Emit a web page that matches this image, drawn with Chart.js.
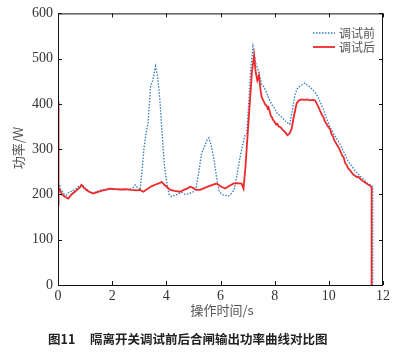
<!DOCTYPE html>
<html>
<head>
<meta charset="utf-8">
<script src="https://cdn.jsdelivr.net/npm/chart.js@4/dist/chart.umd.min.js"></script>
<style>
  body { margin: 0; background: #fff; }
  canvas { display: block; }
</style>
</head>
<body>
<canvas id="chart" width="398" height="352"></canvas>
<script>
// 调试前 (before adjustment)
const timeBefore = [0, 0.01, 0.05, 0.1, 0.2, 0.3, 0.4, 0.5, 0.6, 0.7, 0.8, 0.9, 1.0, 1.1, 1.2, 1.3, 1.45, 1.6, 1.8, 2.0, 2.2, 2.4, 2.6, 2.75, 2.85, 2.95, 3.03, 3.1, 3.17, 3.25, 3.33, 3.42, 3.5, 3.6, 3.68, 3.76, 3.85, 3.92, 4.0, 4.1, 4.2, 4.3, 4.4, 4.55, 4.7, 4.85, 5.0, 5.1, 5.2, 5.3, 5.4, 5.5, 5.57, 5.65, 5.75, 5.85, 5.95, 6.05, 6.15, 6.3, 6.4, 6.5, 6.6, 6.7, 6.8, 6.9, 6.97, 7.05, 7.12, 7.2, 7.25, 7.3, 7.38, 7.45, 7.52, 7.6, 7.7, 7.8, 7.9, 8.0, 8.1, 8.2, 8.3, 8.4, 8.5, 8.56, 8.65, 8.75, 8.85, 8.95, 9.05, 9.12, 9.2, 9.3, 9.4, 9.5, 9.6, 9.7, 9.8, 9.9, 10.0, 10.1, 10.2, 10.3, 10.4, 10.5, 10.6, 10.7, 10.8, 10.9, 11.0, 11.1, 11.2, 11.3, 11.4, 11.5, 11.58, 11.62, 11.62];
const powerBefore = [600, 200, 222, 212, 202, 198, 205, 207, 210, 214, 220, 222, 214, 210, 205, 203, 207, 210, 212, 211, 212, 210, 211, 214, 221, 214, 210, 250, 300, 335, 360, 440, 452, 483, 460, 410, 330, 270, 232, 200, 195, 198, 200, 205, 200, 202, 206, 215, 250, 290, 305, 320, 325, 310, 280, 240, 208, 200, 198, 197, 202, 210, 240, 275, 305, 330, 335, 410, 480, 527, 510, 490, 478, 460, 443, 438, 425, 410, 398, 390, 378, 375, 368, 362, 357, 355, 385, 420, 436, 440, 444, 446, 442, 437, 432, 425, 415, 402, 388, 370, 355, 342, 332, 322, 313, 300, 288, 275, 266, 258, 250, 244, 238, 232, 226, 222, 219, 218, 0];

// 调试后 (after adjustment)
const timeAfter = [0, 0.01, 0.03, 0.07, 0.15, 0.25, 0.38, 0.5, 0.6, 0.7, 0.8, 0.87, 0.95, 1.05, 1.15, 1.3, 1.45, 1.6, 1.75, 1.92, 2.1, 2.3, 2.5, 2.7, 2.9, 3.03, 3.15, 3.3, 3.45, 3.6, 3.75, 3.83, 3.92, 4.01, 4.15, 4.3, 4.5, 4.65, 4.8, 4.87, 5.0, 5.1, 5.24, 5.4, 5.55, 5.7, 5.86, 6.0, 6.17, 6.3, 6.47, 6.6, 6.78, 6.85, 6.92, 7.0, 7.08, 7.16, 7.24, 7.3, 7.36, 7.42, 7.48, 7.52, 7.56, 7.6, 7.65, 7.7, 7.74, 7.77, 7.81, 7.85, 7.9, 7.95, 8.0, 8.05, 8.1, 8.15, 8.2, 8.26, 8.3, 8.35, 8.41, 8.47, 8.55, 8.63, 8.7, 8.81, 8.9, 9.0, 9.1, 9.2, 9.3, 9.4, 9.49, 9.58, 9.67, 9.75, 9.8, 9.85, 9.9, 9.98, 10.05, 10.1, 10.15, 10.2, 10.3, 10.35, 10.41, 10.5, 10.55, 10.6, 10.65, 10.72, 10.78, 10.85, 10.9, 10.95, 11.05, 11.1, 11.15, 11.25, 11.3, 11.35, 11.45, 11.52, 11.58, 11.58];
const powerAfter = [405, 175, 215, 210, 200, 195, 191, 200, 205, 210, 215, 221, 215, 210, 206, 202, 205, 208, 210, 213, 212, 211, 212, 210, 209, 210, 206, 212, 218, 222, 225, 228, 222, 217, 210, 208, 206, 210, 214, 217, 214, 210, 210, 214, 218, 221, 224, 218, 213, 218, 224, 225, 224, 213, 260, 330, 400, 470, 507, 470, 452, 463, 430, 415, 410, 405, 399, 396, 390, 393, 385, 375, 370, 364, 360, 355, 356, 350, 349, 346, 342, 340, 336, 331, 335, 346, 370, 401, 408, 410, 409, 410, 408, 409, 408, 398, 386, 375, 371, 362, 357, 349, 344, 333, 329, 320, 310, 305, 298, 285, 282, 270, 266, 257, 254, 248, 244, 242, 238, 239, 235, 230, 228, 226, 222, 220, 215, 0];

const xTicks = [0, 2, 4, 6, 8, 10, 12];
const yTicks = [0, 100, 200, 300, 400, 500, 600];
const seriesNames = ["调试前", "调试后"];

const blue = "#2f7cc0";
const red = "#ee2a2a";
const cjk = "'Noto Sans CJK SC', sans-serif";
const serif = "'Times New Roman', Times, Tinos, 'Liberation Serif', 'DejaVu Serif', 'Noto Serif', serif";

const toPoints = (xs, ys) => xs.map((x, i) => ({ x: x, y: ys[i] }));

// frame, inward ticks, axis titles, legend and caption
const decor = {
  id: "decor",
  afterDraw(chart) {
    const ctx = chart.ctx;
    const a = chart.chartArea;
    const xs = chart.scales.x;
    const ys = chart.scales.y;
    ctx.save();
    ctx.strokeStyle = "#111";
    ctx.lineWidth = 1;
    ctx.strokeRect(a.left + 0.5, a.top + 0.5, a.right - a.left - 1, a.bottom - a.top);
    ctx.beginPath();
    xTicks.forEach((v) => {
      const px = Math.round(xs.getPixelForValue(v)) + 0.5;
      ctx.moveTo(px, a.bottom); ctx.lineTo(px, a.bottom - 4);
      ctx.moveTo(px, a.top); ctx.lineTo(px, a.top + 4);
    });
    yTicks.forEach((v) => {
      const py = Math.round(ys.getPixelForValue(v)) + 0.5;
      ctx.moveTo(a.left, py); ctx.lineTo(a.left + 4, py);
      ctx.moveTo(a.right, py); ctx.lineTo(a.right - 4, py);
    });
    ctx.stroke();

    // axis titles
    ctx.fillStyle = "#555";
    ctx.font = "13px " + cjk;
    ctx.textAlign = "center";
    ctx.textBaseline = "middle";
    ctx.fillText("操作时间/s", 222, 310);
    ctx.save();
    ctx.translate(18, 148);
    ctx.rotate(-Math.PI / 2);
    ctx.fillText("功率/W", 0, 0);
    ctx.restore();

    // legend
    ctx.textAlign = "left";
    ctx.font = "12px " + cjk;
    ctx.lineWidth = 1.3;
    ctx.strokeStyle = blue;
    ctx.setLineDash([1.5, 1.5]);
    ctx.beginPath(); ctx.moveTo(313, 33); ctx.lineTo(335, 33); ctx.stroke();
    ctx.setLineDash([]);
    ctx.strokeStyle = red;
    ctx.lineWidth = 1.8;
    ctx.beginPath(); ctx.moveTo(313, 47); ctx.lineTo(335, 47); ctx.stroke();
    ctx.fillStyle = "#555";
    ctx.fillText(seriesNames[0], 339, 33);
    ctx.fillText(seriesNames[1], 339, 47);

    // caption
    ctx.fillStyle = "#222";
    ctx.font = "bold 12.5px " + cjk;
    ctx.fillText("图11", 48, 339);
    ctx.fillText("隔离开关调试前后合闸输出功率曲线对比图", 90, 339);
    ctx.restore();
  }
};

Chart.defaults.font.family = serif;

new Chart(document.getElementById("chart"), {
  type: "line",
  data: {
    datasets: [
      {
        label: seriesNames[1],
        data: toPoints(timeAfter, powerAfter),
        borderColor: red,
        borderWidth: 1.8,
        pointRadius: 0,
        tension: 0,
        fill: false
      },
      {
        label: seriesNames[0],
        data: toPoints(timeBefore, powerBefore),
        borderColor: blue,
        borderWidth: 1.3,
        borderDash: [1.5, 1.5],
        pointRadius: 0,
        tension: 0,
        fill: false
      }
    ]
  },
  options: {
    responsive: false,
    animation: false,
    devicePixelRatio: 1,
    layout: { padding: { left: 0, right: 15, top: 13, bottom: 27 } },
    plugins: { legend: { display: false }, tooltip: { enabled: false } },
    scales: {
      x: {
        type: "linear",
        min: 0,
        max: 12,
        afterFit: (s) => { s.height = 40; },
        afterBuildTicks: (s) => { s.ticks = xTicks.map((v) => ({ value: v })); },
        grid: { display: false, drawTicks: false },
        border: { display: false },
        ticks: { padding: 3, maxRotation: 0, autoSkip: false, color: "#333", font: { family: serif, size: 14 } }
      },
      y: {
        min: 0,
        max: 600,
        afterFit: (s) => { s.width = 58; },
        afterBuildTicks: (s) => { s.ticks = yTicks.map((v) => ({ value: v })); },
        grid: { display: false, drawTicks: false },
        border: { display: false },
        ticks: { padding: 5, color: "#333", font: { family: serif, size: 14 } }
      }
    }
  },
  plugins: [decor]
});
</script>
</body>
</html>
